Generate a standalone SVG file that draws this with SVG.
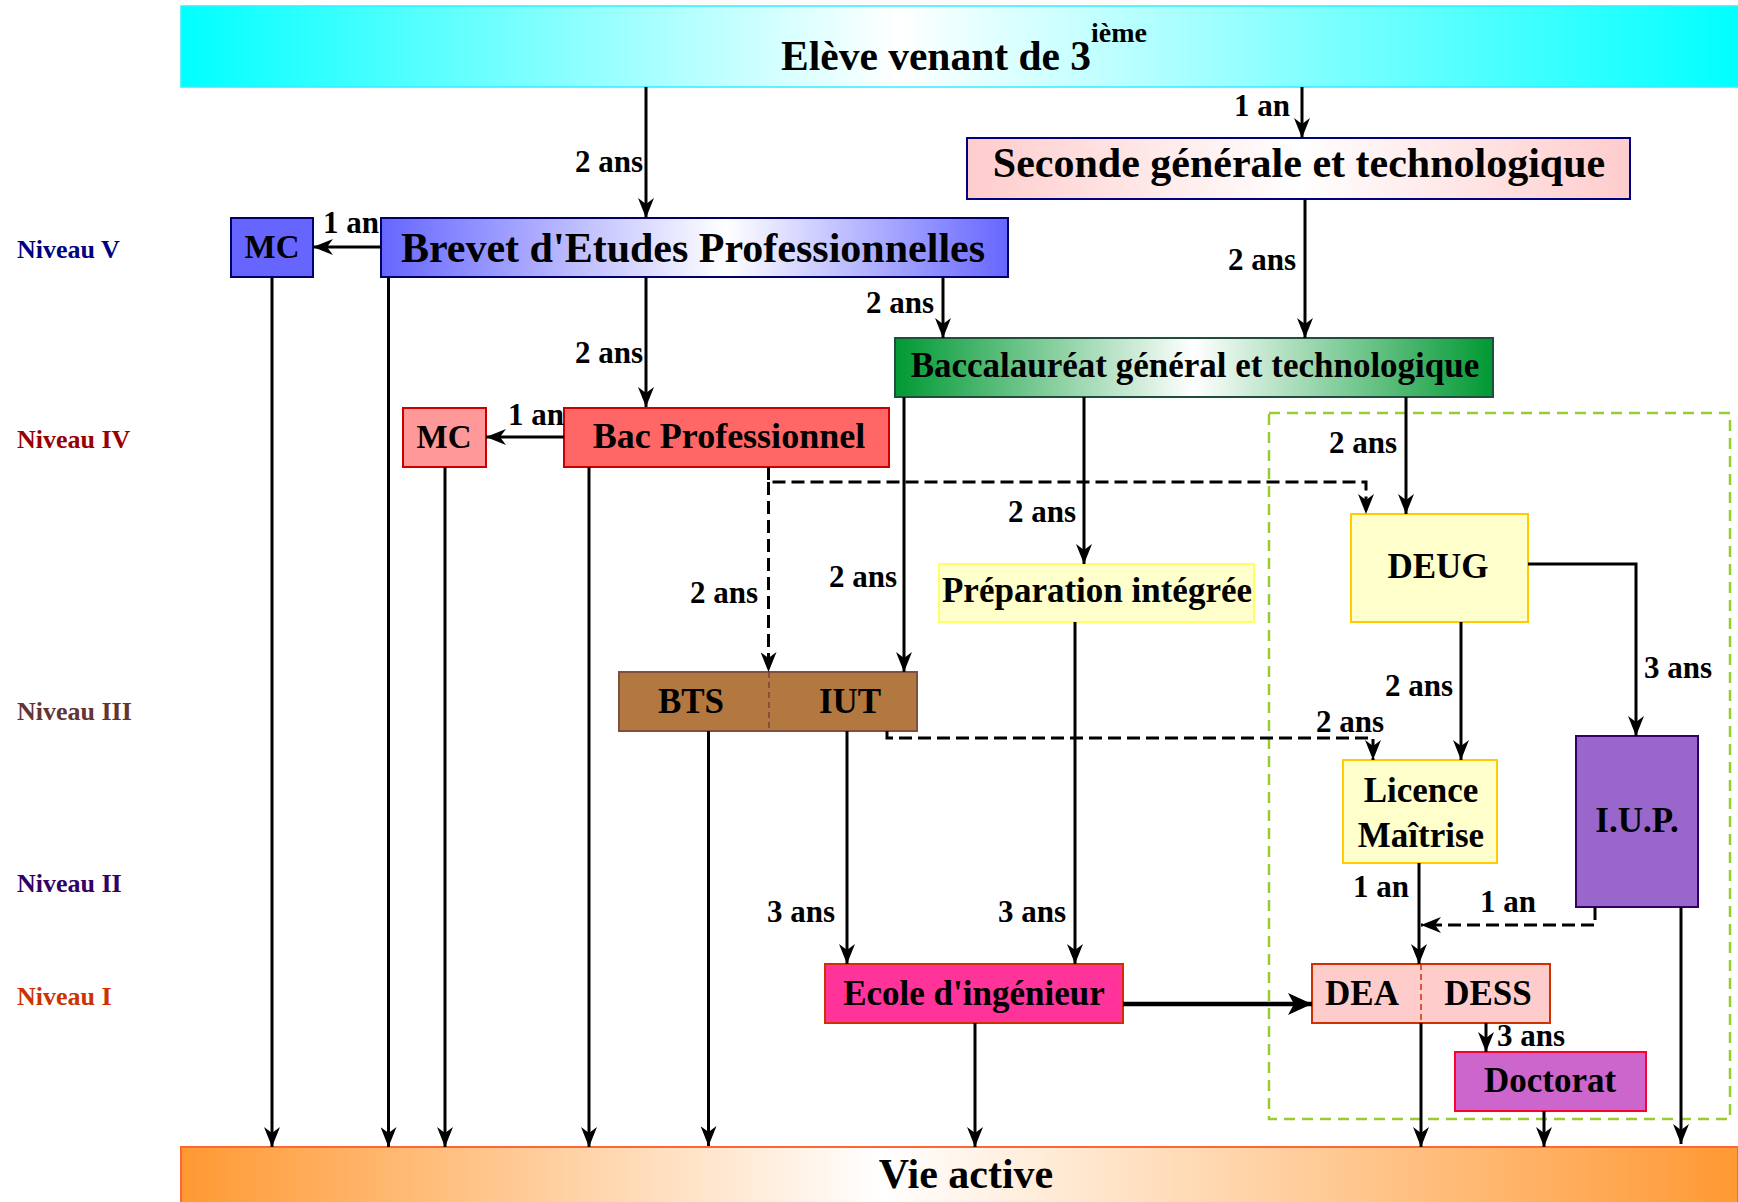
<svg xmlns="http://www.w3.org/2000/svg" width="1738" height="1202" viewBox="0 0 1738 1202">
<style>
text{font-family:"Liberation Serif","Times New Roman",serif;font-weight:bold;fill:#000}
.node{font-size:35px;text-anchor:middle}
.lbl{font-size:31px}
.niv{font-size:26px}
.ln{fill:none;stroke:#000;stroke-width:3}
.dl{fill:none;stroke:#000;stroke-width:3;stroke-dasharray:13 6}
</style>
<defs>
<marker id="arr" markerUnits="userSpaceOnUse" viewBox="0 0 20 16" markerWidth="20" markerHeight="16" refX="20" refY="8" orient="auto"><path d="M0,0 L20,8 L0,16 L6,8 z" fill="#000"/></marker>
<marker id="arrB" markerUnits="userSpaceOnUse" viewBox="0 0 24 22" markerWidth="24" markerHeight="22" refX="24" refY="11" orient="auto"><path d="M0,0 L24,11 L0,22 L6,11 z" fill="#000"/></marker>
<linearGradient id="gTop" x1="0" x2="1" y1="0" y2="0"><stop offset="0" stop-color="#00FFFF"/><stop offset="0.46" stop-color="#FFFFFF"/><stop offset="1" stop-color="#00FFFF"/></linearGradient>
<linearGradient id="gVie" x1="0" x2="1" y1="0" y2="0"><stop offset="0" stop-color="#FF9933"/><stop offset="0.45" stop-color="#FFFFFF"/><stop offset="1" stop-color="#FF9933"/></linearGradient>
<linearGradient id="gBep" x1="0" x2="1" y1="0" y2="0"><stop offset="0" stop-color="#6666FF"/><stop offset="0.55" stop-color="#FFFFFF"/><stop offset="1" stop-color="#6666FF"/></linearGradient>
<linearGradient id="gSec" x1="0" x2="1" y1="0" y2="0"><stop offset="0" stop-color="#FFCCCC"/><stop offset="0.5" stop-color="#FFFFFF"/><stop offset="1" stop-color="#FFCCCC"/></linearGradient>
<linearGradient id="gBac" x1="0" x2="1" y1="0" y2="0"><stop offset="0" stop-color="#009933"/><stop offset="0.5" stop-color="#FFFFFF"/><stop offset="1" stop-color="#009933"/></linearGradient>
</defs>
<rect width="1738" height="1202" fill="#FFFFFF"/>

<g id="niveaux">
<text class="niv" x="17" y="258" style="fill:#000080">Niveau V</text>
<text class="niv" x="17" y="448" style="fill:#990000">Niveau IV</text>
<text class="niv" x="17" y="720" style="fill:#663333">Niveau III</text>
<text class="niv" x="17" y="892" style="fill:#330066">Niveau II</text>
<text class="niv" x="17" y="1005" style="fill:#CC3300">Niveau I</text>
</g>

<g id="zone-universite">
<rect x="1269" y="413" width="461" height="706" fill="none" stroke="#99CC33" stroke-width="2.5" stroke-dasharray="11 7"/>
</g>

<g id="eleve">
<rect x="181" y="6" width="1557" height="81" fill="url(#gTop)" stroke="#33EEFF" stroke-width="1.5"/>
<text x="781" y="70" style="font-size:41.5px">Elève venant de 3<tspan dy="-28" style="font-size:28px">ième</tspan></text>
</g>

<g id="seconde">
<rect x="967" y="138" width="663" height="61" fill="url(#gSec)" stroke="#000080" stroke-width="2"/>
<text class="node" x="1299" y="177" style="font-size:42px">Seconde générale et technologique</text>
</g>

<g id="mc1">
<rect x="231" y="218" width="82" height="59" fill="#6666FF" stroke="#000066" stroke-width="2"/>
<text class="node" x="272" y="258" style="font-size:33px">MC</text>
</g>

<g id="bep">
<rect x="381" y="218" width="627" height="59" fill="url(#gBep)" stroke="#000066" stroke-width="2"/>
<text class="node" x="693" y="262" style="font-size:42px">Brevet d'Etudes Professionnelles</text>
</g>

<g id="bac-general">
<rect x="895" y="338" width="598" height="59" fill="url(#gBac)" stroke="#1F4E3D" stroke-width="2"/>
<text class="node" x="1195" y="377" style="font-size:35px">Baccalauréat général et technologique</text>
</g>

<g id="mc2">
<rect x="403" y="408" width="83" height="59" fill="#FF9999" stroke="#CC0000" stroke-width="2"/>
<text class="node" x="444" y="448" style="font-size:33px">MC</text>
</g>

<g id="bac-pro">
<rect x="564" y="408" width="325" height="59" fill="#FF6666" stroke="#CC0000" stroke-width="2"/>
<text class="node" x="729" y="448" style="font-size:36px">Bac Professionnel</text>
</g>

<g id="preparation">
<rect x="939" y="564" width="315" height="58" fill="#FFFFCC" stroke="#FFFF66" stroke-width="2"/>
<text class="node" x="1097" y="602">Préparation intégrée</text>
</g>

<g id="deug">
<rect x="1351" y="514" width="177" height="108" fill="#FFFFCC" stroke="#FFCC00" stroke-width="2"/>
<text class="node" x="1438" y="578">DEUG</text>
</g>

<g id="bts-iut">
<rect x="619" y="672" width="298" height="59" fill="#B3783F" stroke="#7F4F3F" stroke-width="2"/>
<line x1="769" y1="672" x2="769" y2="731" stroke="#7F3F3F" stroke-width="1.5" stroke-dasharray="6 4"/>
<text class="node" x="691" y="713">BTS</text>
<text class="node" x="850" y="713">IUT</text>
</g>

<g id="licence">
<rect x="1343" y="760" width="154" height="103" fill="#FFFFCC" stroke="#FFCC00" stroke-width="2"/>
<text class="node" x="1421" y="802">Licence</text>
<text class="node" x="1421" y="847">Maîtrise</text>
</g>

<g id="iup">
<rect x="1576" y="736" width="122" height="171" fill="#9966CC" stroke="#330066" stroke-width="2"/>
<text class="node" x="1637" y="832">I.U.P.</text>
</g>

<g id="ecole">
<rect x="825" y="964" width="298" height="59" fill="#FF3399" stroke="#CC3300" stroke-width="2"/>
<text class="node" x="974" y="1005">Ecole d'ingénieur</text>
</g>

<g id="dea-dess">
<rect x="1312" y="964" width="238" height="59" fill="#FFCCCC" stroke="#CC3300" stroke-width="2"/>
<line x1="1421" y1="964" x2="1421" y2="1023" stroke="#CC3300" stroke-width="1.5" stroke-dasharray="6 4"/>
<text class="node" x="1362" y="1005">DEA</text>
<text class="node" x="1488" y="1005">DESS</text>
</g>

<g id="doctorat">
<rect x="1455" y="1052" width="191" height="59" fill="#CC66CC" stroke="#FF0033" stroke-width="2"/>
<text class="node" x="1550" y="1092">Doctorat</text>
</g>

<g id="vie-active">
<rect x="181" y="1147" width="1557" height="60" fill="url(#gVie)" stroke="#FF6633" stroke-width="2"/>
<text class="node" x="966" y="1188" style="font-size:42px">Vie active</text>
</g>

<g id="connectors">
<path class="ln" d="M646,87 V218" marker-end="url(#arr)"/>
<path class="ln" d="M1302,87 V138" marker-end="url(#arr)"/>
<path class="ln" d="M381,247 H313" marker-end="url(#arr)"/>
<path class="ln" d="M1305,199 V338" marker-end="url(#arr)"/>
<path class="ln" d="M943,277 V338" marker-end="url(#arr)"/>
<path class="ln" d="M646,277 V407" marker-end="url(#arr)"/>
<path class="ln" d="M564,437 H486" marker-end="url(#arr)"/>
<path class="ln" d="M272,277 V1147" marker-end="url(#arr)"/>
<path class="ln" d="M388.5,277 V1147" marker-end="url(#arr)"/>
<path class="ln" d="M445,467 V1147" marker-end="url(#arr)"/>
<path class="ln" d="M589,467 V1147" marker-end="url(#arr)"/>
<path class="ln" d="M708.5,731 V1146" marker-end="url(#arr)"/>
<path class="ln" d="M904,397 V672" marker-end="url(#arr)"/>
<path class="ln" d="M1084,397 V564" marker-end="url(#arr)"/>
<path class="ln" d="M1406,397 V514" marker-end="url(#arr)"/>
<path class="ln" d="M1528,564 H1636 V736" marker-end="url(#arr)"/>
<path class="ln" d="M1461,622 V760" marker-end="url(#arr)"/>
<path class="ln" d="M847,731 V964" marker-end="url(#arr)"/>
<path class="ln" d="M1075,622 V964" marker-end="url(#arr)"/>
<path class="ln" d="M1123,1004 H1312" style="stroke-width:4.5" marker-end="url(#arrB)"/>
<path class="ln" d="M975,1023 V1147" marker-end="url(#arr)"/>
<path class="ln" d="M1419,863 V964" marker-end="url(#arr)"/>
<path class="ln" d="M1681,907 V1144" marker-end="url(#arr)"/>
<path class="ln" d="M1486,1023 V1052" marker-end="url(#arr)"/>
<path class="ln" d="M1544,1111 V1147" marker-end="url(#arr)"/>
<path class="ln" d="M1421,1023 V1147" marker-end="url(#arr)"/>
<path class="dl" d="M768.5,467 V482 H1366 V514" marker-end="url(#arr)"/>
<path class="dl" d="M768.5,482 V672" marker-end="url(#arr)"/>
<path class="dl" d="M887,731 V738 H1373 V760" marker-end="url(#arr)"/>
<path class="dl" d="M1595,907 V925 H1421" marker-end="url(#arr)"/>
</g>

<g id="labels">
<text class="lbl" x="643" y="172" text-anchor="end">2 ans</text>
<text class="lbl" x="323" y="233">1 an</text>
<text class="lbl" x="1234" y="116">1 an</text>
<text class="lbl" x="1228" y="270">2 ans</text>
<text class="lbl" x="866" y="313">2 ans</text>
<text class="lbl" x="643" y="363" text-anchor="end">2 ans</text>
<text class="lbl" x="508" y="425">1 an</text>
<text class="lbl" x="1329" y="453">2 ans</text>
<text class="lbl" x="1008" y="522">2 ans</text>
<text class="lbl" x="690" y="603">2 ans</text>
<text class="lbl" x="829" y="587">2 ans</text>
<text class="lbl" x="1644" y="678">3 ans</text>
<text class="lbl" x="1385" y="696">2 ans</text>
<text class="lbl" x="1316" y="732">2 ans</text>
<text class="lbl" x="767" y="922">3 ans</text>
<text class="lbl" x="998" y="922">3 ans</text>
<text class="lbl" x="1353" y="897">1 an</text>
<text class="lbl" x="1480" y="912">1 an</text>
<text class="lbl" x="1497" y="1046">3 ans</text>
</g>
</svg>
